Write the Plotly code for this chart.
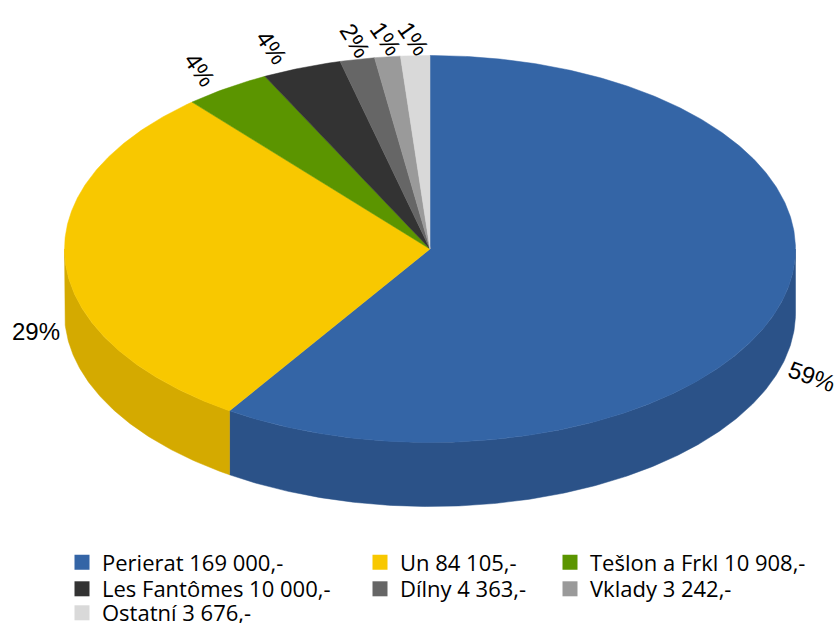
import numpy as np
import plotly.graph_objects as go

# ---------------- data ----------------
categories = ["Perierat 169 000,-", "Un 84 105,-", "Tešlon a Frkl 10 908,-",
              "Les Fantômes 10 000,-", "Dílny 4 363,-", "Vklady 3 242,-",
              "Ostatní 3 676,-"]
values = [169000, 84105, 10908, 10000, 4363, 3242, 3676]

# ---------------- style ----------------
top_colors = ["#3465a6", "#f8c800", "#5b9500", "#333333", "#666666", "#9a9a9a", "#d9d9d9"]
side_colors = ["#2b5288", "#d4aa00", "#4a7a00", "#222222", "#505050", "#7d7d7d", "#b8b8b8"]
label_angles = [20, 0, 55, 55, 58, 55, 55]
label_shifts = [(32, 72), (-29, 70), (-27, -19), (-30, -20), (-2, -19), (-2, -18), (-2, -17)]

W, H = 838, 623
CX, CY, RX, RY, DEPTH = 430.0, 249.0, 365.5, 193.5, 64.0

total = float(sum(values))
fracs = [v / total for v in values]
pct_text = [f"{round(f * 100)}%" for f in fracs]

def rim(theta_deg, drop=0.0):
    t = np.radians(theta_deg)
    return CX + RX * np.sin(t), CY - RY * np.cos(t) + drop

fig = go.Figure()

# slice angle ranges (clockwise from 12 o'clock)
starts, ends = [], []
acc = 0.0
for f in fracs:
    starts.append(acc * 360)
    acc += f
    ends.append(acc * 360)

# side walls (front half only: 90..270 degrees)
for i in range(len(values)):
    a = max(starts[i], 90.0)
    b = min(ends[i], 270.0)
    if b <= a:
        continue
    th = np.linspace(a, b, max(int((b - a) * 2), 2))
    xt, yt = rim(th)
    xb, yb = rim(th[::-1], DEPTH)
    xs = np.concatenate([xt, xb, xt[:1]])
    ys = np.concatenate([yt, yb, yt[:1]])
    fig.add_trace(go.Scatter(x=xs, y=ys, mode="lines", fill="toself",
                             fillcolor=side_colors[i],
                             line=dict(color=side_colors[i], width=0.5),
                             hoverinfo="skip", showlegend=False))

# top faces
for i in range(len(values)):
    th = np.linspace(starts[i], ends[i], max(int((ends[i] - starts[i]) * 2), 2))
    xt, yt = rim(th)
    xs = np.concatenate([[CX], xt, [CX]])
    ys = np.concatenate([[CY], yt, [CY]])
    fig.add_trace(go.Scatter(x=xs, y=ys, mode="lines", fill="toself",
                             fillcolor=top_colors[i],
                             line=dict(color=top_colors[i], width=0.5),
                             hoverinfo="skip", showlegend=False))

# percentage labels
for i in range(len(values)):
    mid = (starts[i] + ends[i]) / 2
    lx, ly = rim(mid)
    fig.add_annotation(x=lx, y=ly, xref="x", yref="y", text=pct_text[i],
                       showarrow=False, textangle=label_angles[i],
                       xshift=label_shifts[i][0], yshift=-label_shifts[i][1],
                       font=dict(family="Liberation Sans", size=24, color="#000000"))

# legend entries: one small legend per entry, laid out in 3 columns
col_x = [62, 360, 550]
row_y = [562.5, 589, 613]
layout_legends = {}
for i, name in enumerate(categories):
    key = "legend" if i == 0 else f"legend{i + 1}"
    fig.add_trace(go.Scatter(x=[None], y=[None], mode="markers", name=name,
                             marker=dict(symbol="square", size=15, color=top_colors[i],
                                         line=dict(width=0)),
                             legend=key, showlegend=True))
    col, row = i % 3, i // 3
    layout_legends[key] = dict(x=col_x[col] / W, y=1 - row_y[row] / H,
                               xanchor="left", yanchor="middle",
                               bgcolor="rgba(0,0,0,0)", borderwidth=0,
                               itemsizing="trace",
                               font=dict(family="Open Sans", size=22, color="#000000"))

fig.update_layout(
    width=W, height=H, autosize=False,
    margin=dict(l=0, r=0, t=0, b=0, pad=0, autoexpand=False),
    paper_bgcolor="white", plot_bgcolor="white",
    xaxis=dict(range=[0, W], visible=False, fixedrange=True),
    yaxis=dict(range=[H, 0], visible=False, fixedrange=True),
    **layout_legends,
)

fig.write_html("out.html", config={"displayModeBar": False},
               post_script="document.body.style.margin='0';document.body.style.overflow='hidden';")
